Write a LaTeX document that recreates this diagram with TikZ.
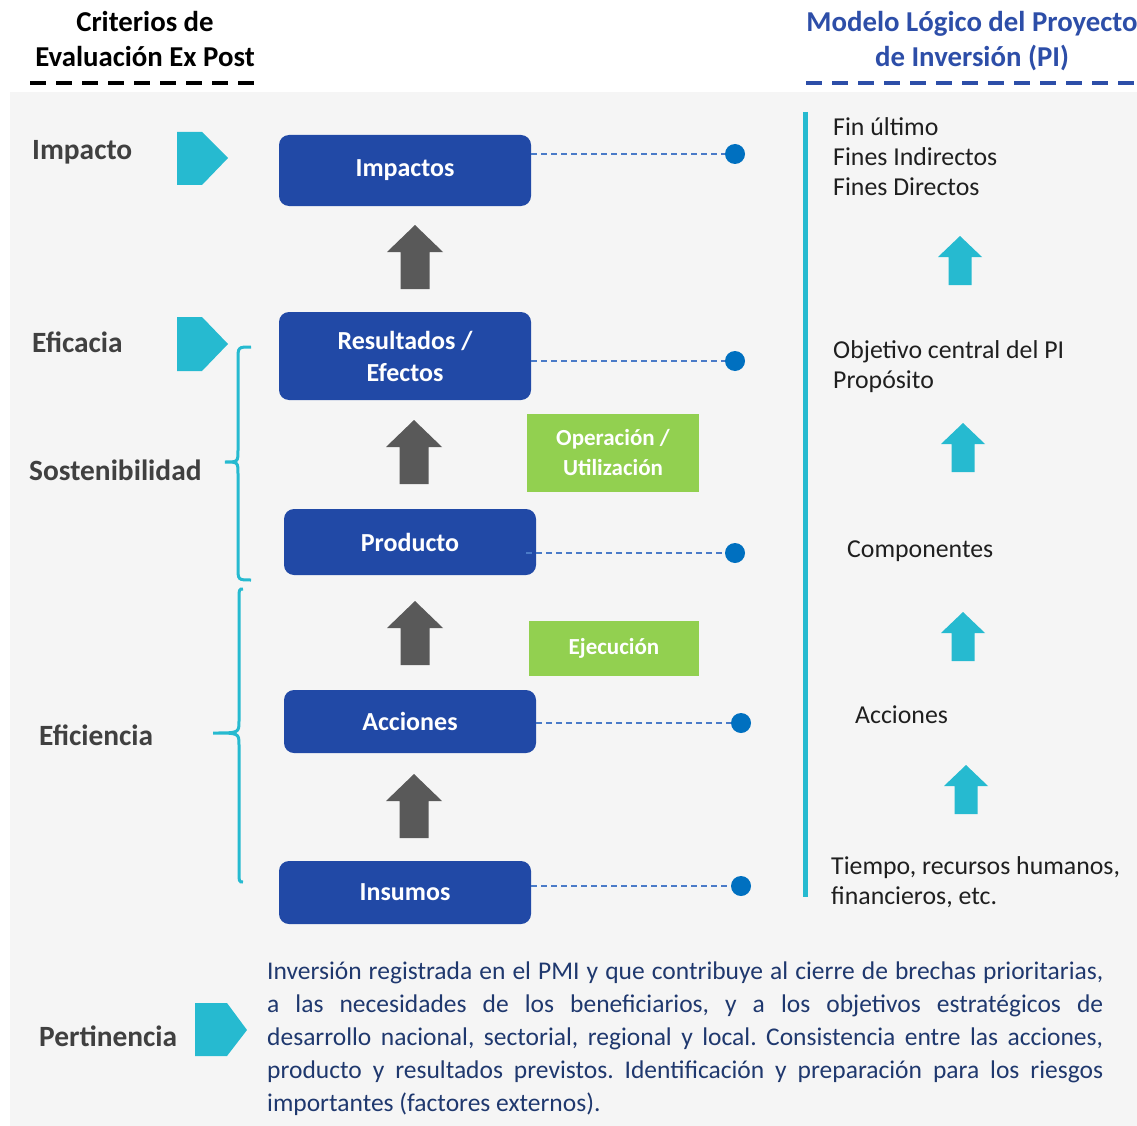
\documentclass[tikz,border=0pt]{standalone}
\usepackage{fontspec}
\setmainfont{Carlito}
\usepackage{tikz}

\definecolor{boxblue}{RGB}{33,73,166}
\definecolor{titleblue}{RGB}{45,78,168}
\definecolor{markcyan}{RGB}{38,186,208}
\definecolor{opgreen}{RGB}{146,208,80}
\definecolor{arrgray}{RGB}{89,89,89}
\definecolor{dotblue}{RGB}{0,112,192}
\definecolor{dashblue}{RGB}{74,123,200}
\definecolor{panelgray}{RGB}{245,245,245}
\definecolor{labelgray}{RGB}{64,64,64}
\definecolor{textnavy}{RGB}{31,56,110}

\tikzset{
  levelbox/.style={fill=boxblue, rounded corners=10, text=white, inner sep=0,
    minimum width=252, align=center, font=\bfseries\fontsize{26}{32}\selectfont},
  phasebox/.style={fill=opgreen, text=white, inner sep=0, align=center,
    font=\bfseries\fontsize{23}{30}\selectfont},
  critlabel/.style={anchor=base west, text=labelgray, inner sep=0,
    font=\bfseries\fontsize{29.4}{34}\selectfont},
  pilabel/.style={anchor=base west, text=black!88, inner sep=0, align=left,
    font=\fontsize{25.8}{30}\selectfont},
  linkdot/.style={circle, fill=dotblue, inner sep=0, minimum size=20},
  linkline/.style={dashblue, line width=1.4, dash pattern=on 6 off 4},
  headline/.style={anchor=base, inner sep=0, font=\bfseries\fontsize{28.8}{34}\selectfont},
}

\begin{document}
\begin{tikzpicture}[x=1pt,y=-1pt]
\useasboundingbox (0,0) rectangle (1137,1126);
\fill[panelgray] (10,92) rectangle (1137,1126);

% titles
\node[headline] (t1a) at (145,32) {Criterios de};
\node[headline] (t1b) at (145,67) {Evaluación Ex Post};
\node[headline, text=titleblue] (t2a) at (972,32) {Modelo Lógico del Proyecto};
\node[headline, text=titleblue] (t2b) at (972,67) {de Inversión (PI)};
\draw[black, line width=3.5, dash pattern=on 16 off 10] (30,83) -- (258,83);
\draw[titleblue, line width=3.5, dash pattern=on 16 off 10] (806,83) -- (1137,83);

% criteria
\node[critlabel] (impacto) at (32,160) {Impacto};
\node[critlabel] (eficacia) at (32,352) {Eficacia};
\node[critlabel] (sosten) at (29,480) {Sostenibilidad};
\node[critlabel] (eficien) at (39,745) {Eficiencia};
\node[critlabel] (pertin) at (39,1046) {Pertinencia};

\fill[markcyan] (177,132) -- (202,132) -- (228,158) -- (202,185) -- (177,185) -- cycle;
\fill[markcyan] (177,317) -- (202,317) -- (228,344) -- (202,371) -- (177,371) -- cycle;
\fill[markcyan] (195,1003) -- (227,1003) -- (247,1030) -- (227,1056) -- (195,1056) -- cycle;

% braces
\draw[markcyan, line width=3] (251,347) .. controls (238,347) .. (238,360) -- (238,450)
  .. controls (238,462) .. (225,462) .. controls (238,462) .. (238,474) -- (238,567)
  .. controls (238,580) .. (251,580);
\draw[markcyan, line width=3] (243,589) .. controls (239,589) .. (239,602) -- (239,721)
  .. controls (239,733) .. (213,733) .. controls (239,733) .. (239,745) -- (239,869)
  .. controls (239,882) .. (243,882);

% logic chain
\node[levelbox, minimum height=71] (imp) at (405,170.5) {Impactos};
\node[levelbox, minimum height=88] (res) at (405,356) {Resultados /\\Efectos};
\node[levelbox, minimum height=66] (prod) at (410,542) {Producto};
\node[levelbox, minimum height=63] (acc) at (410,721.5) {Acciones};
\node[levelbox, minimum height=63] (ins) at (405,892.5) {Insumos};

\node[phasebox, minimum width=172, minimum height=78] (oper) at (613,453) {Operación /\\Utilización};
\node[phasebox, minimum width=170, minimum height=55] (ejec) at (614,648.5) {Ejecución};

\foreach \x/\y in {415/225, 414/420, 415/601, 414/774}
  \fill[arrgray] (\x-14.5,\y+64) -- (\x-14.5,\y+27) -- (\x-28,\y+27) -- (\x,\y)
    -- (\x+28,\y+27) -- (\x+14.5,\y+27) -- (\x+14.5,\y+64) -- cycle;

% links to the PI model
\node[linkdot] (d1) at (735,154) {};
\node[linkdot] (d2) at (735,361) {};
\node[linkdot] (d3) at (735,553) {};
\node[linkdot] (d4) at (741,723) {};
\node[linkdot] (d5) at (741,886) {};
\draw[linkline] (d1 -| imp.east) -- (d1);
\draw[linkline] (d2 -| res.east) -- (d2);
\draw[linkline] ([xshift=-10]d3 -| prod.east) -- (d3);
\draw[linkline] (d4 -| acc.east) -- (d4);
\draw[linkline] (d5 -| ins.east) -- (d5);

\draw[markcyan, line width=5] (805,112) -- (805,897);

% base of a multi-line node = its last line
\node[pilabel] (fin) at (833,196) {Fin último\\Fines Indirectos\\Fines Directos};
\node[pilabel] (obj) at (833,388) {Objetivo central del PI\\Propósito};
\node[pilabel] (comp) at (847,557) {Componentes};
\node[pilabel] (pacc) at (855,723) {Acciones};
\node[pilabel] (tiem) at (831,904) {Tiempo, recursos humanos,\\financieros, etc.};

\foreach \x/\y in {960/236, 963/423, 963/612, 966/765}
  \fill[markcyan] (\x-11.5,\y+49) -- (\x-11.5,\y+21) -- (\x-22,\y+21) -- (\x,\y)
    -- (\x+22,\y+21) -- (\x+11.5,\y+21) -- (\x+11.5,\y+49) -- cycle;

% relevance
\node[anchor=base west, inner sep=0, text width=836, align=justify, text=textnavy,
  font=\fontsize{25.5}{33.2}\selectfont\frenchspacing] (par) at (267,979)
  {Inversión registrada en el PMI y que contribuye al cierre de brechas prioritarias,\linebreak
   a las necesidades de los beneficiarios, y a los objetivos estratégicos de\linebreak
   desarrollo nacional, sectorial, regional y local. Consistencia entre las acciones,\linebreak
   producto y resultados previstos. Identificación y preparación para los riesgos\linebreak
   importantes (factores externos).};
\end{tikzpicture}
\end{document}
